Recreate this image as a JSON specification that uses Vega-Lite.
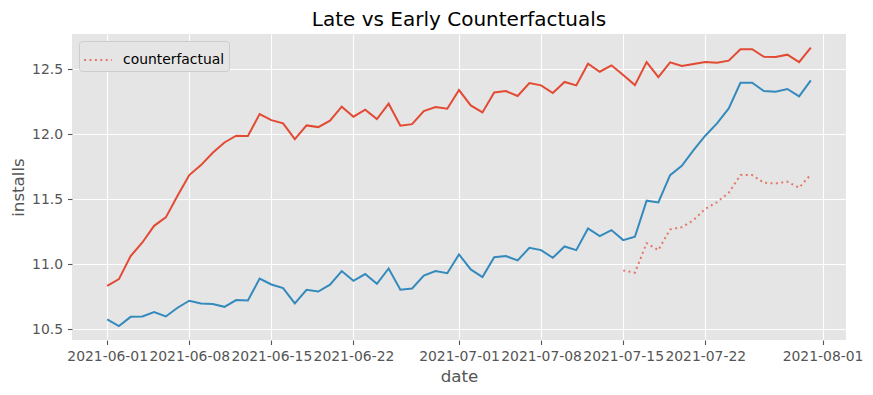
{
  "$schema": "https://vega.github.io/schema/vega-lite/v6.json",
  "autosize": {"type": "none"},
  "width": 774,
  "height": 306,
  "padding": {"left": 72, "top": 34, "right": 27, "bottom": 55},
  "background": "#FFFFFF",
  "title": {"text": "Late vs Early Counterfactuals", "fontSize": 20, "font": "DejaVu Sans", "fontWeight": "normal", "color": "#000000", "anchor": "middle", "frame": "group", "baseline": "bottom", "offset": -16},
  "datasets": {
    "series": [
      {"date": "2021-06-01", "early": 10.836, "late": 10.577},
      {"date": "2021-06-02", "early": 10.887, "late": 10.526},
      {"date": "2021-06-03", "early": 11.064, "late": 10.597},
      {"date": "2021-06-04", "early": 11.169, "late": 10.600},
      {"date": "2021-06-05", "early": 11.297, "late": 10.633},
      {"date": "2021-06-06", "early": 11.362, "late": 10.600},
      {"date": "2021-06-07", "early": 11.528, "late": 10.667},
      {"date": "2021-06-08", "early": 11.687, "late": 10.721},
      {"date": "2021-06-09", "early": 11.764, "late": 10.700},
      {"date": "2021-06-10", "early": 11.859, "late": 10.695},
      {"date": "2021-06-11", "early": 11.938, "late": 10.674},
      {"date": "2021-06-12", "early": 11.990, "late": 10.726},
      {"date": "2021-06-13", "early": 11.987, "late": 10.723},
      {"date": "2021-06-14", "early": 12.156, "late": 10.892},
      {"date": "2021-06-15", "early": 12.110, "late": 10.846},
      {"date": "2021-06-16", "early": 12.085, "late": 10.818},
      {"date": "2021-06-17", "early": 11.964, "late": 10.700},
      {"date": "2021-06-18", "early": 12.069, "late": 10.805},
      {"date": "2021-06-19", "early": 12.056, "late": 10.792},
      {"date": "2021-06-20", "early": 12.105, "late": 10.844},
      {"date": "2021-06-21", "early": 12.213, "late": 10.949},
      {"date": "2021-06-22", "early": 12.136, "late": 10.874},
      {"date": "2021-06-23", "early": 12.190, "late": 10.926},
      {"date": "2021-06-24", "early": 12.118, "late": 10.851},
      {"date": "2021-06-25", "early": 12.236, "late": 10.969},
      {"date": "2021-06-26", "early": 12.067, "late": 10.805},
      {"date": "2021-06-27", "early": 12.079, "late": 10.815},
      {"date": "2021-06-28", "early": 12.179, "late": 10.915},
      {"date": "2021-06-29", "early": 12.210, "late": 10.949},
      {"date": "2021-06-30", "early": 12.197, "late": 10.933},
      {"date": "2021-07-01", "early": 12.341, "late": 11.077},
      {"date": "2021-07-02", "early": 12.223, "late": 10.962},
      {"date": "2021-07-03", "early": 12.169, "late": 10.903},
      {"date": "2021-07-04", "early": 12.323, "late": 11.056},
      {"date": "2021-07-05", "early": 12.333, "late": 11.064},
      {"date": "2021-07-06", "early": 12.295, "late": 11.031},
      {"date": "2021-07-07", "early": 12.395, "late": 11.128},
      {"date": "2021-07-08", "early": 12.377, "late": 11.110},
      {"date": "2021-07-09", "early": 12.318, "late": 11.051},
      {"date": "2021-07-10", "early": 12.403, "late": 11.138},
      {"date": "2021-07-11", "early": 12.377, "late": 11.110},
      {"date": "2021-07-12", "early": 12.544, "late": 11.277},
      {"date": "2021-07-13", "early": 12.482, "late": 11.218},
      {"date": "2021-07-14", "early": 12.531, "late": 11.264},
      {"date": "2021-07-15", "early": 12.456, "late": 11.187, "counterfactual": 10.954},
      {"date": "2021-07-16", "early": 12.379, "late": 11.213, "counterfactual": 10.936},
      {"date": "2021-07-17", "early": 12.556, "late": 11.490, "counterfactual": 11.164},
      {"date": "2021-07-18", "early": 12.441, "late": 11.477, "counterfactual": 11.110},
      {"date": "2021-07-19", "early": 12.554, "late": 11.687, "counterfactual": 11.269},
      {"date": "2021-07-20", "early": 12.526, "late": 11.759, "counterfactual": 11.287},
      {"date": "2021-07-21", "early": 12.541, "late": 11.879, "counterfactual": 11.341},
      {"date": "2021-07-22", "early": 12.556, "late": 11.990, "counterfactual": 11.428},
      {"date": "2021-07-23", "early": 12.551, "late": 12.085, "counterfactual": 11.479},
      {"date": "2021-07-24", "early": 12.567, "late": 12.200, "counterfactual": 11.551},
      {"date": "2021-07-25", "early": 12.655, "late": 12.397, "counterfactual": 11.687},
      {"date": "2021-07-26", "early": 12.655, "late": 12.397, "counterfactual": 11.687},
      {"date": "2021-07-27", "early": 12.597, "late": 12.333, "counterfactual": 11.628},
      {"date": "2021-07-28", "early": 12.595, "late": 12.328, "counterfactual": 11.623},
      {"date": "2021-07-29", "early": 12.613, "late": 12.349, "counterfactual": 11.636},
      {"date": "2021-07-30", "early": 12.556, "late": 12.292, "counterfactual": 11.590},
      {"date": "2021-07-31", "early": 12.668, "late": 12.415, "counterfactual": 11.692}
    ]
  },
  "data": {"name": "series"},
  "encoding": {
    "x": {
      "field": "date", "type": "temporal",
      "scale": {"type": "utc", "domain": [{"year": 2021, "month": 5, "date": 29, "utc": true}, {"year": 2021, "month": 8, "date": 3, "utc": true}], "nice": false},
      "axis": {
        "title": "date",
        "format": "%Y-%m-%d",
        "values": [
          {"year": 2021, "month": 6, "date": 1, "utc": true},
          {"year": 2021, "month": 6, "date": 8, "utc": true},
          {"year": 2021, "month": 6, "date": 15, "utc": true},
          {"year": 2021, "month": 6, "date": 22, "utc": true},
          {"year": 2021, "month": 7, "date": 1, "utc": true},
          {"year": 2021, "month": 7, "date": 8, "utc": true},
          {"year": 2021, "month": 7, "date": 15, "utc": true},
          {"year": 2021, "month": 7, "date": 22, "utc": true},
          {"year": 2021, "month": 8, "date": 1, "utc": true}
        ],
        "labelOverlap": false, "labelFlush": false, "labelBound": false,
        "titlePadding": 5
      }
    },
    "y": {
      "field": "value", "type": "quantitative",
      "scale": {"domain": [10.419, 12.772], "nice": false, "zero": false},
      "axis": {"title": "installs", "values": [10.5, 11.0, 11.5, 12.0, 12.5], "format": ".1f", "titlePadding": 4, "labelOverlap": false}
    }
  },
  "layer": [
    {
      "transform": [{"fold": ["early", "late"], "as": ["series", "value"]}],
      "mark": {"type": "line", "strokeWidth": 2, "clip": true},
      "encoding": {
        "color": {"field": "series", "type": "nominal", "scale": {"domain": ["early", "late"], "range": ["#E24A33", "#348ABD"]}, "legend": null}
      }
    },
    {
      "transform": [
        {"fold": ["counterfactual"], "as": ["series", "value"]},
        {"filter": "isValid(datum.value)"}
      ],
      "mark": {"type": "line", "strokeWidth": 2, "color": "#E24A33", "opacity": 0.7, "strokeCap": "butt", "clip": true},
      "encoding": {
        "strokeDash": {"field": "series", "type": "nominal", "scale": {"domain": ["counterfactual"], "range": [[2, 3.4]]}, "legend": {"title": null, "orient": "top-left", "offset": 6.5}}
      }
    }
  ],
  "config": {
    "view": {"fill": "#E5E5E5", "stroke": null},
    "axis": {
      "domain": false, "grid": true, "gridColor": "#FFFFFF", "gridWidth": 1.1,
      "tickColor": "#555555", "tickSize": 4.5, "tickWidth": 1.1,
      "labelColor": "#555555", "labelFontSize": 13.9, "labelFont": "DejaVu Sans", "labelPadding": 5,
      "titleColor": "#555555", "titleFontSize": 16.7, "titleFont": "DejaVu Sans", "titleFontWeight": "normal"
    },
    "legend": {
      "fillColor": "#E5E5E5", "strokeColor": "#CCCCCC", "cornerRadius": 3, "padding": 4,
      "symbolType": "stroke", "symbolSize": 773, "symbolStrokeWidth": 2, "symbolStrokeColor": "#E24A33", "symbolOpacity": 0.7,
      "symbolDash": [2, 3.4],
      "labelFontSize": 13.9, "labelFont": "DejaVu Sans", "labelColor": "#000000", "labelOffset": 10
    }
  }
}
